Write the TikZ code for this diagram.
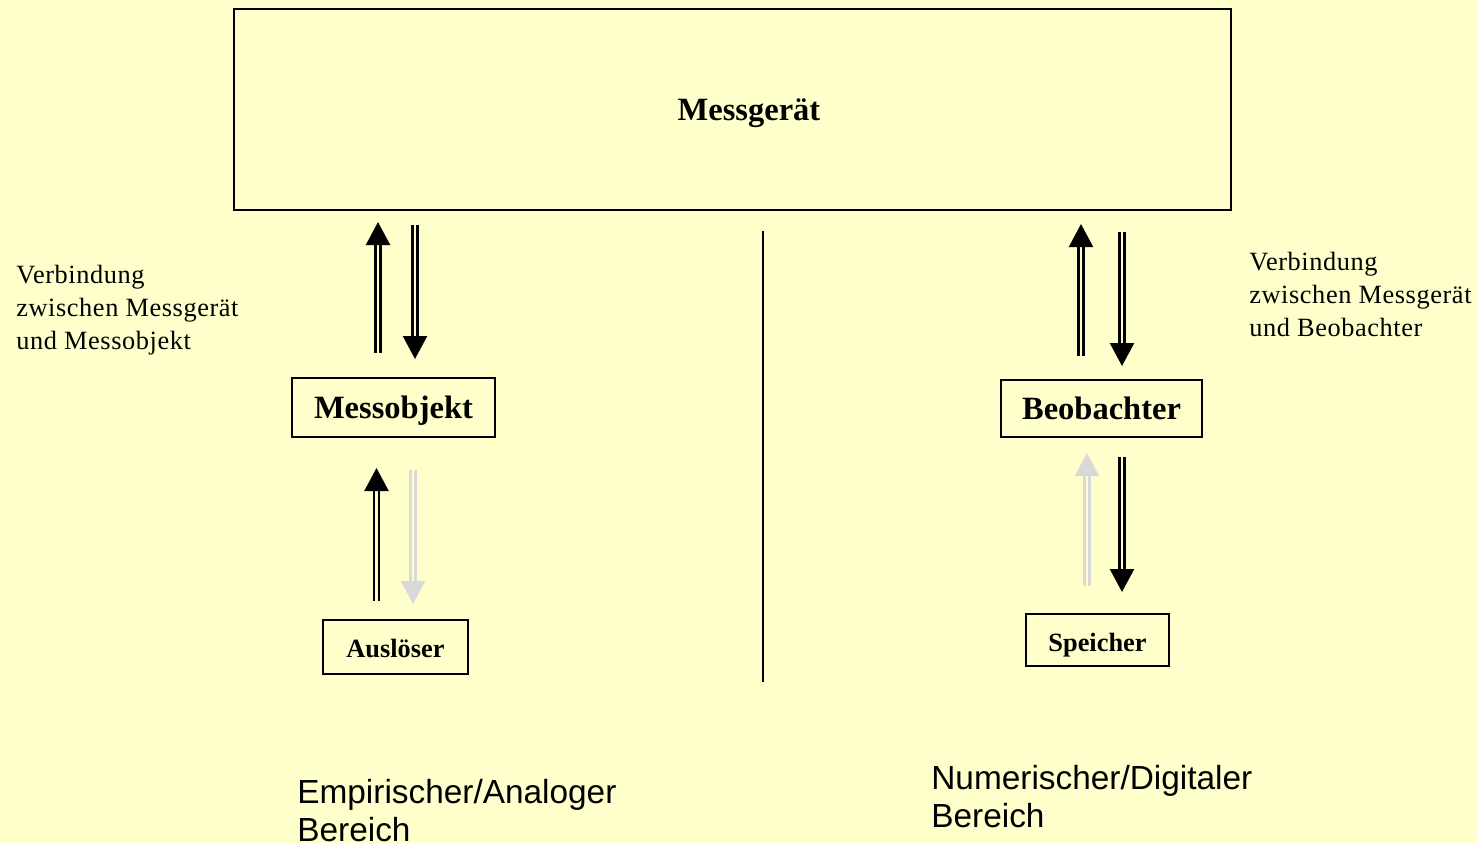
\documentclass[tikz,border=0pt]{standalone}
\usepackage{fontspec}
\setmainfont{Liberation Serif}
\newfontfamily\arialfont{Liberation Sans}
\usepackage{tikz}
\usetikzlibrary{arrows.meta}
\usepackage{xcolor}
\definecolor{bgyellow}{HTML}{FFFFCC}
\definecolor{paleline}{HTML}{D9D9D9}
\tikzstyle{box}=[draw, line width=1pt, inner sep=0pt, font=\bfseries]
\tikzstyle{dbl>}=[line width=1.3pt, double=bgyellow, double distance=1.6pt, -{Triangle[length=0.46cm,width=0.48cm]}]
\tikzstyle{pale}=[draw=paleline, fill=paleline]
\tikzstyle{note}=[anchor=north west, inner sep=0pt, align=left, font=\fontsize{15}{18.7}\selectfont\addfontfeature{LetterSpace=2.2}]
\tikzstyle{area}=[anchor=north west, inner sep=0pt, align=left, font=\arialfont\fontsize{19}{21.5}\selectfont]

\begin{document}
\begin{tikzpicture}[x=0.02cm,y=-0.02cm]
\fill[bgyellow] (0,0) rectangle (1478,843);
\useasboundingbox (0,0) rectangle (1478,843);
\node[box, minimum width=19.94cm, minimum height=4.02cm] (geraet) at (732.5,109.5) {};
\node[font=\bfseries\fontsize{18.5}{22}\selectfont] (geraettext) at (749,113) {Messgerät};
\node[box, minimum width=4.06cm, minimum height=1.18cm, text depth=0.5pt, font=\bfseries\fontsize{18.5}{22}\selectfont] (objekt) at (393.5,407.5) {Messobjekt};
\node[box, minimum width=4.02cm, minimum height=1.14cm, font=\bfseries\fontsize{18.5}{22}\selectfont] (beob) at (1101.5,408.5) {Beobachter};
\node[box, minimum width=2.9cm, minimum height=1.08cm, text height=12.4pt, text depth=0pt, font=\bfseries\fontsize{15}{18}\selectfont] (ausl) at (395.5,647) {Auslöser};
\node[box, minimum width=2.86cm, minimum height=1.04cm, text height=12.6pt, text depth=0pt, font=\bfseries\fontsize{15}{18}\selectfont] (speicher) at (1097.5,640) {Speicher};
\coordinate (mid1) at (763,231);
\coordinate (mid2) at (763,682);
\draw[line width=1pt] (mid1) -- (mid2);
\coordinate (a1) at (378,353);
\coordinate (a2) at (378,222);
\coordinate (b1) at (415,225);
\coordinate (b2) at (415,359);
\coordinate (c1) at (376.5,601);
\coordinate (c2) at (376.5,468);
\coordinate (d1) at (413,470);
\coordinate (d2) at (413,604);
\coordinate (e1) at (1081,356);
\coordinate (e2) at (1081,224);
\coordinate (f1) at (1122,232);
\coordinate (f2) at (1122,366);
\coordinate (g1) at (1087,586);
\coordinate (g2) at (1087,453);
\coordinate (h1) at (1122,457);
\coordinate (h2) at (1122,592);
\draw[dbl>] (a1) -- (a2);
\draw[dbl>] (b1) -- (b2);
\draw[dbl>] (c1) -- (c2);
\draw[dbl>, pale] (d1) -- (d2);
\draw[dbl>] (e1) -- (e2);
\draw[dbl>] (f1) -- (f2);
\draw[dbl>, pale] (g1) -- (g2);
\draw[dbl>] (h1) -- (h2);
\node[note] (linksnote) at (16,265) {Verbindung\\zwischen Messgerät\\und Messobjekt};
\node[note] (rechtsnote) at (1249,252) {Verbindung\\zwischen Messgerät\\und Beobachter};
\node[area] (analog) at (297,779) {Empirischer/Analoger\\Bereich};
\node[area] (digital) at (931,765) {Numerischer/Digitaler\\Bereich};
\end{tikzpicture}
\end{document}
